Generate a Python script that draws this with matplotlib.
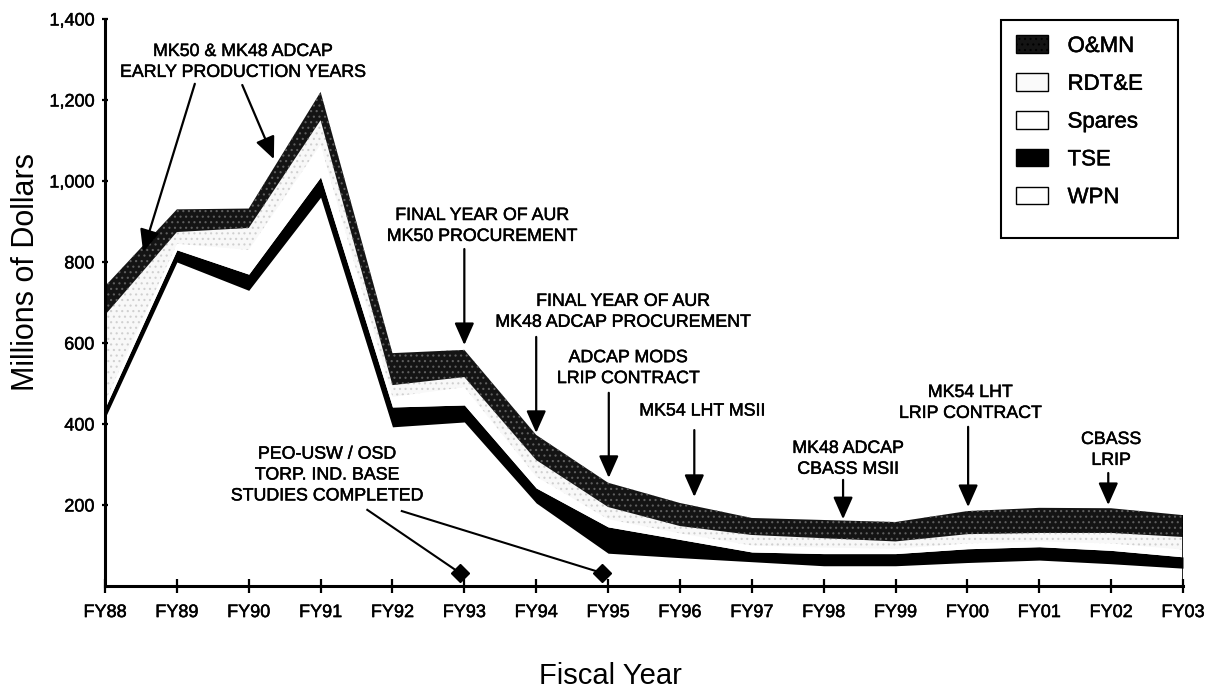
import matplotlib.pyplot as plt
import matplotlib.patheffects as pe
import numpy as np
from matplotlib.patches import Patch, Rectangle

# fiscal years on the x axis
years = ['FY88', 'FY89', 'FY90', 'FY91', 'FY92', 'FY93', 'FY94', 'FY95',
         'FY96', 'FY97', 'FY98', 'FY99', 'FY00', 'FY01', 'FY02', 'FY03']

# stacked funding, millions of dollars (bottom to top)
wpn = [415, 800, 730, 960, 393, 405, 205, 81, 70, 60, 50, 50, 58, 64, 55, 44]
tse = [25, 30, 40, 50, 49, 42, 37, 65, 45, 24, 30, 30, 34, 33, 33, 28]
spares = [15, 15, 60, 80, 25, 44, 28, 19, 15, 16, 15, 12, 13, 13, 17, 18]
rdte = [214, 29, 54, 60, 29, 25, 41, 30, 18, 26, 23, 18, 23, 21, 26, 31]
omn = [71, 56, 48, 70, 79, 67, 62, 60, 57, 42, 45, 48, 57, 62, 61, 54]

yticks = [200, 400, 600, 800, 1000, 1200, 1400]
ytick_labels = ['200', '400', '600', '800', '1,000', '1,200', '1,400']

# studies completed markers (x in year index, y in $M)
study_x = [4.94, 6.92]
study_y = [32, 32]

plt.rcParams['font.family'] = ['Liberation Sans', 'DejaVu Sans']
plt.rcParams['hatch.linewidth'] = 0.8

# scanned print look: slightly heavier strokes on text
bold = [pe.withStroke(linewidth=0.35, foreground='black')]

fig = plt.figure(figsize=(12.07, 6.89), dpi=100)
ax = fig.add_axes([105 / 1207, 1 - 586 / 689, 1078 / 1207, 567 / 689])

x = np.arange(len(years))
layers = [
    ('WPN', wpn, 'white', 'white', None),
    ('TSE', tse, 'black', 'black', None),
    ('Spares', spares, 'white', 'white', None),
    ('RDT&E', rdte, '#f8f8f8', '#d0d0d0', '...'),
    ('O&MN', omn, '#141414', '#5e5e5e', '...'),
]
bottom = np.zeros(len(years))
for name, vals, fc, hc, hatch in layers:
    top = bottom + np.array(vals)
    ax.fill_between(x, bottom, top, facecolor=fc, edgecolor=hc, hatch=hatch,
                    linewidth=0)
    bottom = top
ax.vlines(x[-1], 0, bottom[-1], color='black', lw=1.2)

ax.plot(study_x, study_y, 'D', color='black', markersize=9, clip_on=False)

ax.set_xlim(0, len(years) - 1)
ax.set_ylim(0, 1400)
ax.set_xticks(x)
ax.set_xticklabels(years, fontsize=13)
ax.set_yticks(yticks)
ax.set_yticklabels(ytick_labels, fontsize=13)
for t in ax.get_xticklabels() + ax.get_yticklabels():
    t.set_path_effects(bold)
ax.tick_params(axis='x', direction='inout', length=10, width=1.6, pad=8)
ax.tick_params(axis='y', direction='inout', length=5, width=1.6, pad=5)
for s in ['top', 'right']:
    ax.spines[s].set_visible(False)
for s in ['left', 'bottom']:
    ax.spines[s].set_linewidth(2.2)

fig.text(26 / 1207, 1 - 272 / 689, 'Millions of Dollars', rotation=90,
         ha='center', va='center', fontsize=22)
fig.text(610 / 1207, 1 - 676 / 689, 'Fiscal Year', ha='center', va='center',
         fontsize=21)

arrow = dict(arrowstyle='-|>,head_length=0.45,head_width=0.2', mutation_scale=30,
             color='black', lw=1.6, shrinkA=0, shrinkB=0)


def note(text, tx, ty, arrows):
    ax.text(tx, ty, text, ha='center', va='center', fontsize=12.8,
            linespacing=1.3, path_effects=bold)
    for (x0, y0, x1, y1) in arrows:
        ax.annotate('', xy=(x1, y1), xytext=(x0, y0), arrowprops=arrow)


note('MK50 & MK48 ADCAP\nEARLY PRODUCTION YEARS', 1.92, 1294,
     [(1.25, 1240, 0.53, 825), (1.91, 1237, 2.35, 1054)])
note('FINAL YEAR OF AUR\nMK50 PROCUREMENT', 5.25, 889, [(5.0, 832, 5.0, 595)])
note('FINAL YEAR OF AUR\nMK48 ADCAP PROCUREMENT', 7.21, 677,
     [(6.0, 615, 6.0, 378)])
note('ADCAP MODS\nLRIP CONTRACT', 7.28, 538, [(7.01, 477, 7.01, 267)])
note('MK54 LHT MSII', 8.31, 432, [(8.2, 385, 8.2, 220)])
note('MK48 ADCAP\nCBASS MSII', 10.34, 314, [(10.27, 262, 10.27, 165)])
note('MK54 LHT\nLRIP CONTRACT', 12.04, 452, [(12.01, 393, 12.01, 195)])
note('CBASS\nLRIP', 14.0, 336, [(13.96, 279, 13.96, 200)])

ax.text(3.09, 274, 'PEO-USW / OSD\nTORP. IND. BASE\nSTUDIES COMPLETED',
        ha='center', va='center', fontsize=12.8, linespacing=1.3,
        path_effects=bold)
ax.plot([3.65, study_x[0]], [188, study_y[0]], color='black', lw=1.5)
ax.plot([4.13, study_x[1]], [185, study_y[1]], color='black', lw=1.5)

handles = [
    Patch(facecolor='#141414', edgecolor='black', hatch='...', label='O&MN'),
    Patch(facecolor='#fafafa', edgecolor='black', label='RDT&E'),
    Patch(facecolor='white', edgecolor='black', label='Spares'),
    Patch(facecolor='black', edgecolor='black', label='TSE'),
    Patch(facecolor='white', edgecolor='black', label='WPN'),
]
leg = ax.legend(handles=handles, loc='upper left',
                bbox_to_anchor=(1012 / 1207, 1 - 31 / 689),
                bbox_transform=fig.transFigure, borderaxespad=0,
                fontsize=16, frameon=False, handlelength=1.4,
                handleheight=0.85, handletextpad=0.9, labelspacing=0.73,
                borderpad=0.2)
for t in leg.get_texts():
    t.set_path_effects(bold)
fig.patches.append(Rectangle((1001 / 1207, 1 - 238 / 689), 177 / 1207,
                             218 / 689, transform=fig.transFigure,
                             facecolor='none', edgecolor='black', lw=1.5))

fig.savefig('out.png', dpi=100)
